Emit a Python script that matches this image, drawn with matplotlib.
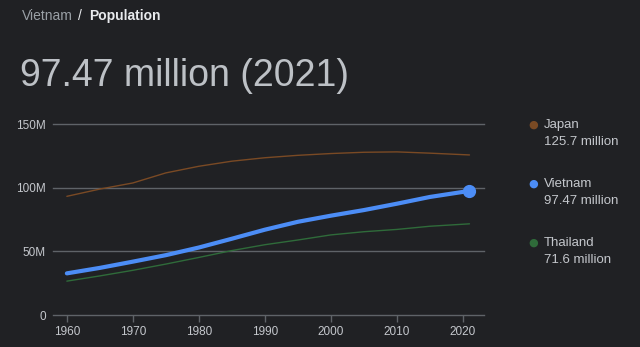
import matplotlib
matplotlib.use("Agg")
import matplotlib.pyplot as plt
from matplotlib.ticker import FuncFormatter

# Population (millions)
years = [1960, 1965, 1970, 1975, 1980, 1985, 1990, 1995, 2000, 2005, 2010, 2015, 2021]
vietnam = [32.7, 37.0, 41.9, 47.0, 53.0, 59.9, 67.0, 73.2, 78.0, 82.4, 87.4, 92.7, 97.47]
japan = [93.2, 98.9, 103.7, 111.6, 116.8, 120.8, 123.5, 125.4, 126.8, 127.8, 128.1, 127.1, 125.7]
thailand = [26.6, 30.7, 35.1, 40.0, 45.2, 50.6, 55.2, 58.9, 62.9, 65.4, 67.2, 69.7, 71.6]

legend_names = ["Japan", "Vietnam", "Thailand"]
legend_values = ["125.7 million", "97.47 million", "71.6 million"]

bg = "#202124"
c_japan = "#7a4a24"
c_vietnam = "#4c8df6"
c_thai = "#2f6b3a"
grid_c = "#5f6368"
txt_c = "#c4c7cc"

plt.rcParams["font.family"] = ["Liberation Sans", "DejaVu Sans"]

fig = plt.figure(figsize=(6.4, 3.47), dpi=100, facecolor=bg)
ax = fig.add_axes([53 / 640, 1 - 315 / 347, (484 - 53) / 640, (315 - 124) / 347])
ax.set_facecolor(bg)

ax.plot(years, japan, color=c_japan, lw=1.0, solid_capstyle="round")
ax.plot(years, thailand, color=c_thai, lw=1.0, solid_capstyle="round")
ax.plot(years, vietnam, color=c_vietnam, lw=3.0, solid_capstyle="round")
ax.plot(years[-1], vietnam[-1], "o", color=c_vietnam, ms=8.5, clip_on=False)

ax.set_xlim(1957.9, 2023.2)
ax.set_ylim(0, 150)
ax.set_yticks([0, 50, 100, 150])
ax.yaxis.set_major_formatter(FuncFormatter(lambda v, p: "0" if v == 0 else f"{int(v)}M"))
ax.set_xticks(range(1960, 2021, 10))
for v in [0, 50, 100, 150]:
    ax.axhline(v, color=grid_c, lw=1.0, clip_on=False, zorder=0)
for s in ax.spines.values():
    s.set_visible(False)
ax.tick_params(axis="y", length=0, pad=5, labelsize=8.5, labelcolor=txt_c)
ax.tick_params(axis="x", length=5, width=1, color=grid_c, pad=3, labelsize=8.5, labelcolor=txt_c)

# header
fig.text(22 / 640, 1 - 16 / 347, "Vietnam", color="#9aa0a6", fontsize=10, va="center")
fig.text(78 / 640, 1 - 16 / 347, "/", color="#e8eaed", fontsize=10, va="center")
fig.text(89 / 640, 1 - 16 / 347, "Population", color="#e8eaed", fontsize=10, va="center",
         fontweight="bold")
fig.text(20 / 640, 1 - 76 / 347, "97.47 million (2021)", color="#bdc1c6", fontsize=27, va="center")

# legend
colors = [c_japan, c_vietnam, c_thai]
ys = [125, 184, 243]
for name, val, c, y in zip(legend_names, legend_values, colors, ys):
    fig.text(533 / 640, 1 - y / 347, "\u25cf", color=c, fontsize=8, va="center", ha="center",
             family="DejaVu Sans")
    fig.text(544 / 640, 1 - y / 347, name, color=txt_c, fontsize=9.5, va="center")
    fig.text(544 / 640, 1 - (y + 17) / 347, val, color=txt_c, fontsize=9.5, va="center")

fig.savefig("out.png", dpi=100, facecolor=bg)
